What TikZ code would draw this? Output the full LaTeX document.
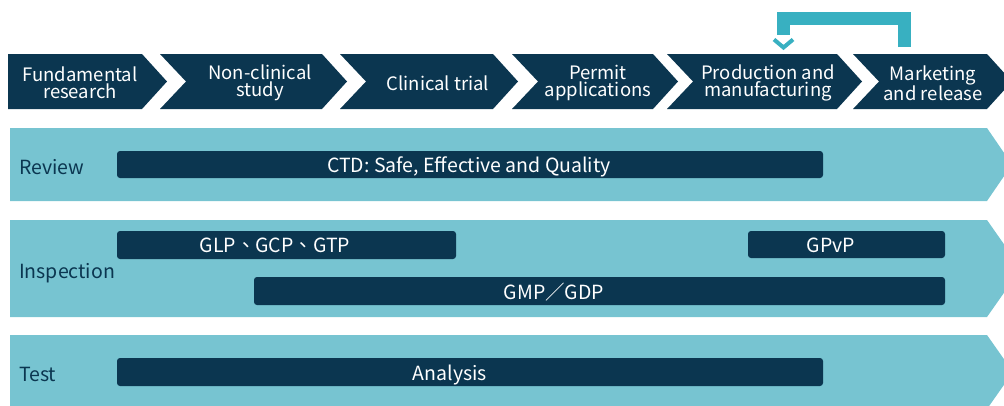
\documentclass[tikz,border=0pt]{standalone}
\usepackage{fontspec}
\setmainfont{Noto Sans CJK TC}
\usetikzlibrary{positioning}
\definecolor{navy}{HTML}{0B3650}
\definecolor{band}{HTML}{77C4D1}
\definecolor{loopc}{HTML}{38B0C1}
\tikzset{%
  stage/.style={fill=navy},
  stagetext/.style={text=white,align=center,inner sep=0pt,font=\fontsize{18.5}{17}\selectfont},
  lane/.style={fill=band},
  lanetext/.style={text=navy,anchor=base west,inner sep=0pt,font=\fontsize{19.5}{20}\selectfont},
  bar/.style={fill=navy,rounded corners=3pt},
  bartext/.style={text=white,anchor=base,inner sep=0pt,font=\fontsize{19.5}{20}\selectfont},
  feedback/.style={draw=loopc,line width=13pt},
  barb/.style={draw=loopc,line width=4pt}
}

\begin{document}
\begin{tikzpicture}[x=1pt,y=-1pt]
  \useasboundingbox (0,0) rectangle (1004,405);

  % stages
  \foreach \nm/\l/\r/\n/\tx/\txt in {
      fr/8/142/0/80/{Fundamental\\research},
      nc/160/322/1/260/{Non-clinical\\study},
      ct/340/493/1/438/{Clinical trial},
      pa/512/653/1/598/{Permit\\applications},
      pm/667/837/1/768/{Production and\\manufacturing},
      mr/853/987/1/933/{Marketing\\and release}} {
    \fill[stage] (\l,54) -- (\r,54) -- (\r+25,81.5) -- (\r,109) -- (\l,109)
      -- (\l+\n*26,81.5) -- cycle;
    \node[stagetext] (\nm) at (\tx,83) {\txt};
  }

  % feedback loop
  \coordinate (fbstart) at (904,47);
  \coordinate (fbtop) at (844,18.5);
  \coordinate (fbgap) at (783.5,35);
  \coordinate (fbend) at (783.5,47.5);
  \draw[feedback] (fbstart) |- (fbtop) -| (fbgap);
  \draw[barb] ([xshift=-9.5pt,yshift=8pt]fbend) -- (fbend) -- ([xshift=9.5pt,yshift=8pt]fbend);

  % lanes
  \fill[lane] (10,128) -- (987,128) -- (1012,164.5) -- (987,201) -- (10,201) -- cycle;
  \fill[lane] (10,220) -- (987,220) -- (1021,268.5) -- (987,317) -- (10,317) -- cycle;
  \fill[lane] (10,335) -- (987,335) -- (1013,372) -- (987,409) -- (10,409) -- cycle;
  \node[lanetext] (review) at (19,174) {Review};
  \node[lanetext] (inspect) at (19,278) {Inspection};
  \node[lanetext] (test) at (19,381) {Test};

  % bars
  \fill[bar] (117,151) rectangle (823,178);
  \fill[bar] (117,231) rectangle (456,259);
  \fill[bar] (748,231) rectangle (945,258);
  \fill[bar] (254,277) rectangle (945,305);
  \fill[bar] (117,358) rectangle (823,386);
  \node[bartext] (ctd) at (469,172.5) {CTD: Safe, Effective and Quality};
  \node[bartext] (glp) at (275,252.5) {GLP、GCP、GTP};
  \node[bartext] (gpvp) at (831,252.5) {GPvP};
  \node[bartext] (gmp) at (554,299) {GMP／GDP};
  \node[bartext] (ana) at (450,380) {Analysis};
\end{tikzpicture}
\end{document}
